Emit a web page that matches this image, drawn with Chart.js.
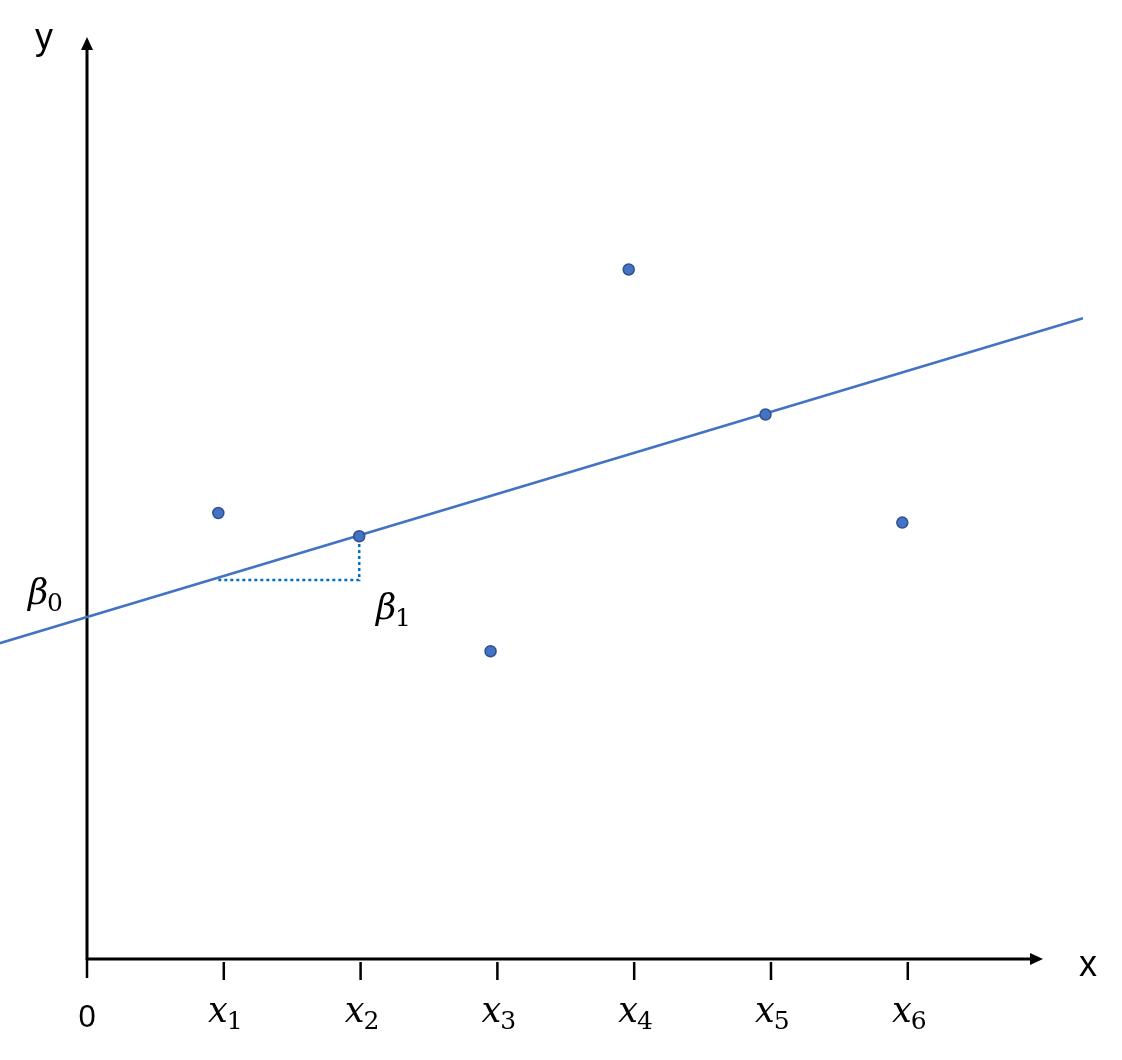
<!DOCTYPE html>
<html lang="en">
<head>
<meta charset="UTF-8">
<title>Linear regression sketch</title>
<style>
  html, body { margin: 0; padding: 0; background: #fff; }
  canvas { display: block; }
</style>
</head>
<body>
<canvas id="myChart" width="1122" height="1060"></canvas>
<script src="https://cdn.jsdelivr.net/npm/chart.js@4/dist/chart.umd.min.js"></script>
<script>
// observations
const obsX = [0.96, 1.99, 2.95, 3.96, 4.96, 5.96];
const obsY = [3.26, 3.09, 2.25, 5.04, 3.98, 3.19];

// fitted line y = b0 + b1 * x, drawn between two x values
const b0 = 2.5;
const b1 = 0.3;
const lineX = [-0.64, 7.28];

// slope triangle (dotted)
const slopeX = [0.96, 1.99, 1.99];
const slopeY = [2.77, 2.77, 3.09];

// x axis ticks and their subscripts
const tickVals = [1, 2, 3, 4, 5, 6];
const tickSubs = ['1', '2', '3', '4', '5', '6'];

const scatterData = obsX.map((x, i) => ({ x: x, y: obsY[i] }));
const lineData = lineX.map(x => ({ x: x, y: b0 + b1 * x }));
const slopeData = slopeX.map((x, i) => ({ x: x, y: slopeY[i] }));

// draws arrows, ticks and the math labels
const axesPlugin = {
  id: 'axes',
  beforeDatasetsDraw(chart) {
    const c = chart.ctx;
    const sx = chart.scales.x, sy = chart.scales.y;
    const ox = sx.getPixelForValue(0);
    const oy = sy.getPixelForValue(0);
    const xEnd = 1043, yEnd = 37;

    c.save();
    c.strokeStyle = '#000';
    c.fillStyle = '#000';
    c.lineWidth = 3;
    c.beginPath();
    c.moveTo(ox, oy + 1);
    c.lineTo(ox, yEnd + 10);
    c.moveTo(ox - 1, oy);
    c.lineTo(xEnd - 10, oy);
    c.stroke();
    // arrow heads
    c.beginPath();
    c.moveTo(ox, yEnd);
    c.lineTo(ox - 6, yEnd + 13);
    c.lineTo(ox + 6, yEnd + 13);
    c.closePath();
    c.fill();
    c.beginPath();
    c.moveTo(xEnd, oy);
    c.lineTo(xEnd - 13, oy - 6);
    c.lineTo(xEnd - 13, oy + 6);
    c.closePath();
    c.fill();

    // ticks
    c.lineWidth = 2.5;
    c.beginPath();
    c.moveTo(ox, oy);
    c.lineTo(ox, oy + 19);
    tickVals.forEach(v => {
      const px = sx.getPixelForValue(v);
      c.moveTo(px, oy + 3);
      c.lineTo(px, oy + 21);
    });
    c.stroke();

    // plain labels
    c.font = '36px "Liberation Sans", Arial, sans-serif';
    c.textAlign = 'center';
    c.textBaseline = 'alphabetic';
    c.fillText('y', 44, 49);
    c.fillText('x', 1088, 976);
    c.font = '31px "Liberation Sans", Arial, sans-serif';
    c.fillText('0', ox, 1027);

    // x_i labels
    tickVals.forEach((v, i) => {
      const px = sx.getPixelForValue(v);
      mathLabel(c, 'x', tickSubs[i], px - 6, 1022);
    });
    // beta labels
    mathLabel(c, 'β', '0', 38, 604);
    mathLabel(c, 'β', '1', 386, 619);
    c.restore();
  }
};

function mathLabel(c, base, sub, cx, baseline) {
  c.textAlign = 'center';
  c.font = 'italic 35px "DejaVu Serif", "Liberation Serif", serif';
  const w = c.measureText(base).width;
  c.fillText(base, cx, baseline);
  c.textAlign = 'left';
  c.font = '25px "DejaVu Serif", "Liberation Serif", serif';
  c.fillText(sub, cx + w / 2 - 1, baseline + 7);
}

const ctx = document.getElementById('myChart').getContext('2d');

const chart = new Chart(ctx, {
  type: 'scatter',
  data: {
    datasets: [
      {
        label: 'fit',
        data: lineData,
        showLine: true,
        borderColor: '#4472C4',
        borderWidth: 2.5,
        pointRadius: 0,
        order: 3
      },
      {
        label: 'slope',
        data: slopeData,
        showLine: true,
        borderColor: '#0070C0',
        borderWidth: 2.5,
        borderDash: [3, 3],
        pointRadius: 0,
        order: 2
      },
      {
        label: 'obs',
        data: scatterData,
        backgroundColor: '#4472C4',
        borderColor: '#2F528F',
        borderWidth: 1.5,
        pointRadius: 5.5,
        order: 1
      }
    ]
  },
  options: {
    responsive: false,
    animation: false,
    layout: { padding: 0, autoPadding: false },
    plugins: {
      legend: { display: false },
      tooltip: { enabled: false },
      title: { display: false }
    },
    scales: {
      x: { type: 'linear', display: false, min: -0.636, max: 7.566 },
      y: { type: 'linear', display: false, min: -0.738, max: 7.01 }
    }
  },
  plugins: [axesPlugin]
});
</script>
</body>
</html>
